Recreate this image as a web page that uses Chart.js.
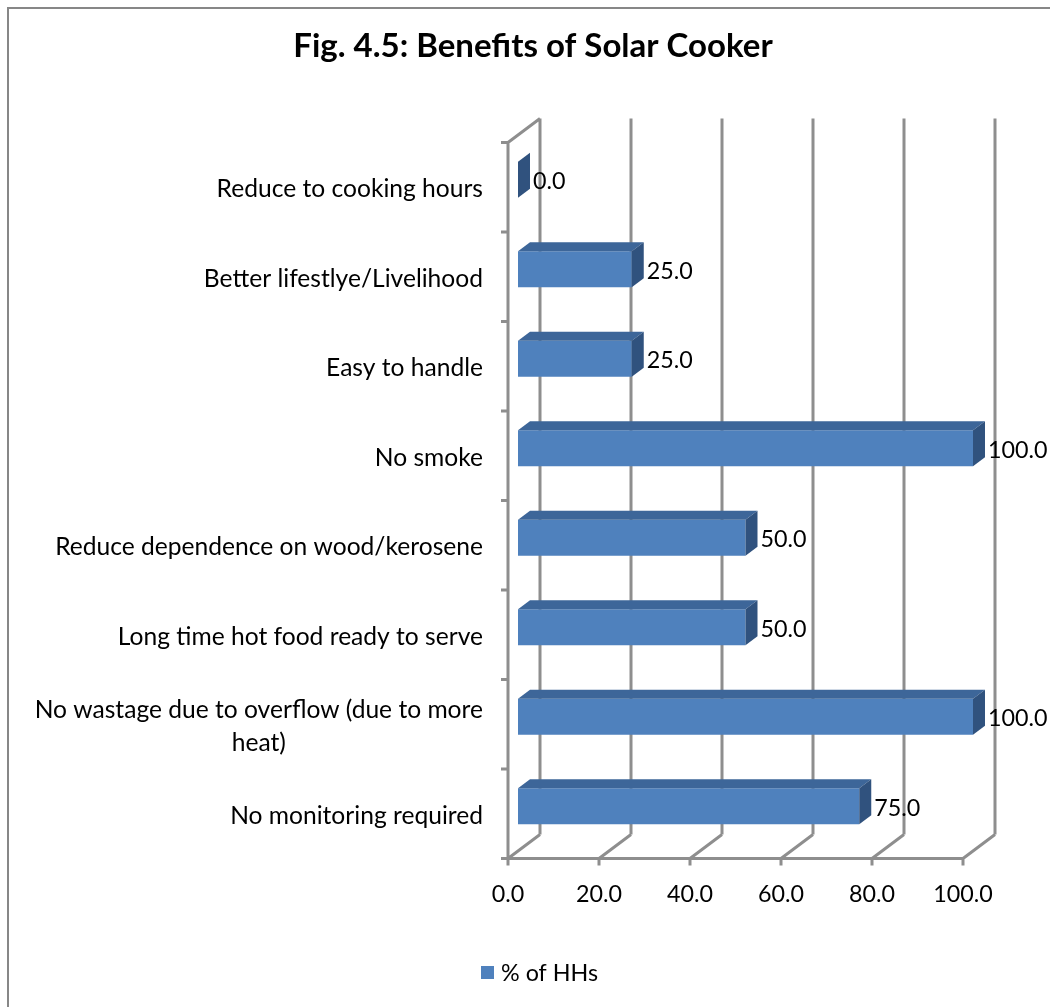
<!DOCTYPE html>
<html>
<head>
<meta charset="utf-8">
<title>Benefits of Solar Cooker</title>
<script src="https://cdn.jsdelivr.net/npm/chart.js@4.4.1/dist/chart.umd.min.js"></script>
<style>
  html, body { margin: 0; padding: 0; background: #fff; }
  #wrap { width: 1050px; height: 1007px; position: relative; }
</style>
</head>
<body>
<div id="wrap"><canvas id="chart" width="1050" height="1007"></canvas></div>
<script>
// Fig. 4.5 — benefits reported by households using a solar cooker (% of HHs).
// Excel-style 3D bar look: Chart.js draws the front faces, the plugin below
// adds the walls, floor, bar tops/sides and all the text.

const categories = [
  ["Reduce to cooking hours"],
  ["Better lifestlye/Livelihood"],
  ["Easy to handle"],
  ["No smoke"],
  ["Reduce dependence on wood/kerosene"],
  ["Long time hot food ready to serve"],
  ["No wastage due to overflow (due to more", "heat)"],
  ["No monitoring required"],
];
const pctHHs = [0.0, 25.0, 25.0, 100.0, 50.0, 50.0, 100.0, 75.0];
const xTicks = [0, 20, 40, 60, 80, 100];
const seriesName = "% of HHs";
const chartTitle = "Fig. 4.5: Benefits of Solar Cooker";

const FONT = "Lato, 'Open Sans', sans-serif";
const LABEL_FONT = "24.6px " + FONT;
const NUM_FONT = "23.3px " + FONT;
const BLUE = "#4F81BD";
const BLUE_TOP = "#3D6699";
const BLUE_SIDE = "#30527E";
const GRID = "#8E8E8E";

// depth direction of the 3D box (per px of x, y goes up by 0.75)
const FRONT = -10;   // axis front plane, relative to the bar face plane
const BACK = 22;     // back wall
const BAR_DEPTH = 12;
const dy = (d) => -0.75 * d;

const box3d = {
  id: "box3d",
  beforeDatasetsDraw(chart) {
    const { ctx, chartArea: a, scales: { x } } = chart;
    ctx.save();
    ctx.strokeStyle = GRID;
    ctx.lineWidth = 3;
    ctx.lineCap = "butt";
    const fx = FRONT, fy = dy(FRONT), bx = BACK, by = dy(BACK);
    ctx.beginPath();
    // back wall gridlines + floor diagonals
    xTicks.forEach((v) => {
      const px = x.getPixelForValue(v);
      ctx.moveTo(px + bx, a.top + by);
      ctx.lineTo(px + bx, a.bottom + by);
      ctx.moveTo(px + fx, a.bottom + fy);
      ctx.lineTo(px + bx, a.bottom + by);
      // tick below the front edge
      ctx.moveTo(px + fx, a.bottom + fy);
      ctx.lineTo(px + fx, a.bottom + fy + 7);
    });
    const x0 = x.getPixelForValue(0);
    // front floor edge
    ctx.moveTo(x0 + fx - 7, a.bottom + fy);
    ctx.lineTo(x.getPixelForValue(100) + fx, a.bottom + fy);
    // left wall: front edge and top edge
    ctx.moveTo(x0 + fx, a.top + fy);
    ctx.lineTo(x0 + fx, a.bottom + fy);
    ctx.moveTo(x0 + fx, a.top + fy);
    ctx.lineTo(x0 + bx, a.top + by);
    // category boundary ticks on the left wall
    const band = (a.bottom - a.top) / categories.length;
    for (let i = 0; i < categories.length; i++) {
      const py = a.top + i * band + fy;
      ctx.moveTo(x0 + fx - 7, py);
      ctx.lineTo(x0 + fx, py);
    }
    ctx.stroke();
    ctx.restore();
  },
  afterDatasetsDraw(chart) {
    const { ctx, chartArea: a, scales: { x, y } } = chart;
    const meta = chart.getDatasetMeta(0);
    const d = BAR_DEPTH, h = dy(BAR_DEPTH);
    ctx.save();
    meta.data.forEach((bar, i) => {
      const { x: xr, y: yc, base, height } = bar.getProps(["x", "y", "base", "height"], true);
      const top = yc - height / 2, bot = yc + height / 2;
      // top face
      ctx.fillStyle = BLUE_TOP;
      ctx.beginPath();
      ctx.moveTo(base, top);
      ctx.lineTo(base + d, top + h);
      ctx.lineTo(xr + d, top + h);
      ctx.lineTo(xr, top);
      ctx.closePath();
      ctx.fill();
      // right side face
      ctx.fillStyle = BLUE_SIDE;
      ctx.beginPath();
      ctx.moveTo(xr, top);
      ctx.lineTo(xr + d, top + h);
      ctx.lineTo(xr + d, bot + h);
      ctx.lineTo(xr, bot);
      ctx.closePath();
      ctx.fill();
      // value label
      ctx.fillStyle = "#000";
      ctx.font = NUM_FONT;
      ctx.textAlign = "left";
      ctx.textBaseline = "middle";
      ctx.fillText(pctHHs[i].toFixed(1), xr + d + 3, yc + 2);
    });

    // category labels, sitting on the front plane
    const labelRight = x.getPixelForValue(0) + FRONT - 25;
    ctx.font = LABEL_FONT;
    ctx.textBaseline = "middle";
    categories.forEach((lines, i) => {
      const cy = y.getPixelForValue(i) + dy(FRONT) + 2;
      const lh = 33;
      if (lines.length === 1) {
        ctx.textAlign = "right";
        ctx.fillText(lines[0], labelRight, cy);
      } else {
        const w = Math.max(...lines.map((s) => ctx.measureText(s).width));
        const cx = labelRight - w / 2;
        ctx.textAlign = "center";
        lines.forEach((s, k) => {
          ctx.fillText(s, cx, cy + (k - (lines.length - 1) / 2) * lh);
        });
      }
    });

    // value axis labels
    ctx.font = NUM_FONT;
    ctx.textAlign = "center";
    xTicks.forEach((v) => {
      ctx.fillText(v.toFixed(1), x.getPixelForValue(v) + FRONT, a.bottom + dy(FRONT) + 36);
    });

    // title
    ctx.font = "bold 33px " + FONT;
    ctx.textAlign = "center";
    ctx.fillText(chartTitle, 533, 46);

    // legend
    ctx.fillStyle = BLUE;
    ctx.fillRect(481, 966, 13, 13);
    ctx.fillStyle = "#000";
    ctx.font = NUM_FONT;
    ctx.textAlign = "left";
    ctx.fillText(seriesName, 501, 973);

    // outer chart border
    ctx.strokeStyle = "#878787";
    ctx.lineWidth = 2;
    ctx.beginPath();
    ctx.moveTo(8, 1007);
    ctx.lineTo(8, 8);
    ctx.lineTo(1050, 8);
    ctx.stroke();
    ctx.restore();
  },
};

new Chart(document.getElementById("chart"), {
  type: "bar",
  data: {
    labels: categories,
    datasets: [{
      label: seriesName,
      data: pctHHs,
      backgroundColor: BLUE,
      borderWidth: 0,
      categoryPercentage: 1,
      barPercentage: 0.4,
    }],
  },
  options: {
    indexAxis: "y",
    responsive: false,
    animation: false,
    layout: { padding: { left: 518, right: 77, top: 135, bottom: 156 } },
    scales: {
      x: { display: false, min: 0, max: 100 },
      y: { display: false },
    },
    plugins: {
      legend: { display: false },
      title: { display: false },
      tooltip: { enabled: false },
    },
  },
  plugins: [box3d],
});
</script>
</body>
</html>
